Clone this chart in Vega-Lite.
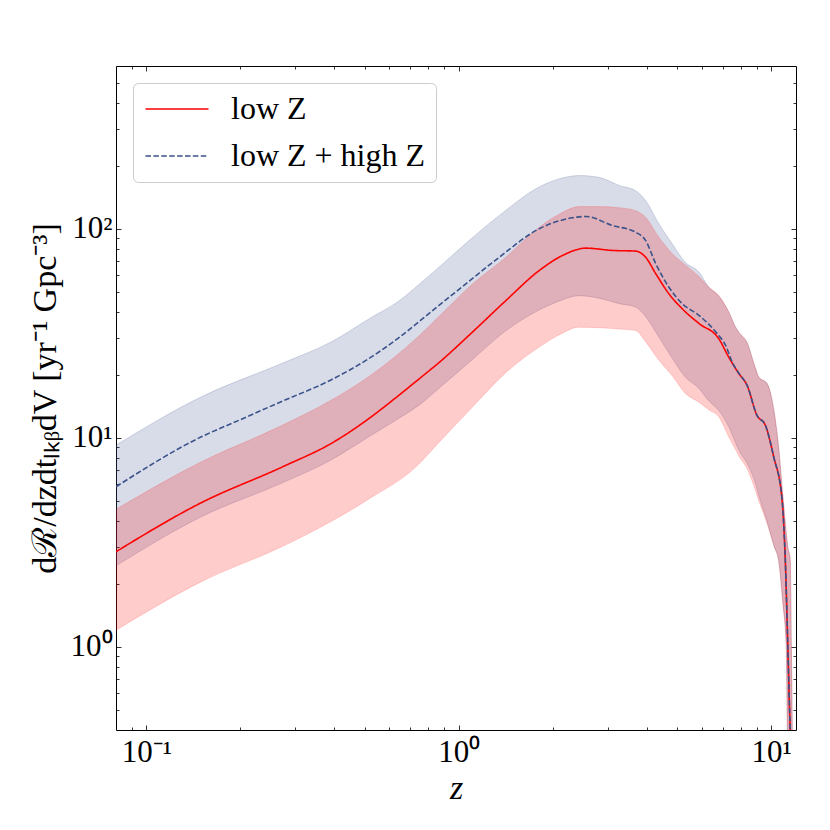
{
  "$schema": "https://vega.github.io/schema/vega-lite/v6.json",
  "autosize": {"type": "none"},
  "padding": {"left": 116, "top": 66, "right": 34, "bottom": 100},
  "width": 680,
  "height": 664,
  "background": "white",
  "config": {
    "view": {"stroke": "#000000", "strokeWidth": 1},
    "axis": {
      "domain": false,
      "grid": false,
      "tickColor": "#000000",
      "tickWidth": 0.8,
      "labelFont": "Liberation Serif",
      "labelFontSize": 31,
      "labelColor": "#000000",
      "labelFlush": false,
      "labelOverlap": false,
      "labelBound": false,
      "titleFont": "Liberation Serif",
      "titleFontWeight": "normal",
      "titleColor": "#000000"
    }
  },
  "datasets": {
    "band_both": [
      {"z": 0.08, "lo": 2.44, "hi": 9.22},
      {"z": 0.15, "lo": 4.19, "hi": 15.7},
      {"z": 0.27, "lo": 6.05, "hi": 22.6},
      {"z": 0.39, "lo": 7.82, "hi": 28.7},
      {"z": 0.52, "lo": 10.2, "hi": 37.3},
      {"z": 0.65, "lo": 12.5, "hi": 45.6},
      {"z": 0.75, "lo": 14.4, "hi": 54.5},
      {"z": 0.87, "lo": 17.4, "hi": 66},
      {"z": 1.1, "lo": 23.5, "hi": 90},
      {"z": 1.4, "lo": 32.1, "hi": 121},
      {"z": 1.8, "lo": 40.7, "hi": 157.8},
      {"z": 2.09, "lo": 45, "hi": 173},
      {"z": 2.43, "lo": 47.8, "hi": 179.5},
      {"z": 2.81, "lo": 46.5, "hi": 176},
      {"z": 3.26, "lo": 43.8, "hi": 161},
      {"z": 3.68, "lo": 42.2, "hi": 152},
      {"z": 3.96, "lo": 38, "hi": 136.5},
      {"z": 4.37, "lo": 30.3, "hi": 105.5},
      {"z": 4.82, "lo": 24, "hi": 84.7},
      {"z": 5.31, "lo": 19.5, "hi": 69},
      {"z": 5.87, "lo": 17.2, "hi": 62},
      {"z": 6.31, "lo": 15, "hi": 52.6},
      {"z": 6.79, "lo": 13.5, "hi": 47.5},
      {"z": 7.31, "lo": 11.3, "hi": 40},
      {"z": 7.68, "lo": 9.5, "hi": 33.9},
      {"z": 7.87, "lo": 8.73, "hi": 32},
      {"z": 8.37, "lo": 7.54, "hi": 28.5},
      {"z": 8.9, "lo": 6.05, "hi": 21.5},
      {"z": 9.12, "lo": 5.3, "hi": 19.5},
      {"z": 9.69, "lo": 4.0, "hi": 18.2},
      {"z": 10.23, "lo": 3.0, "hi": 13.1},
      {"z": 10.55, "lo": 2.6, "hi": 9.1},
      {"z": 10.9, "lo": 1.6, "hi": 5.2},
      {"z": 11.17, "lo": 1.0, "hi": 3.5},
      {"z": 11.3, "lo": 0.3, "hi": 3.0},
      {"z": 11.5, "lo": 0.3, "hi": 2.6},
      {"z": 11.6, "lo": 0.3, "hi": 1.0},
      {"z": 11.7, "lo": 0.3, "hi": 0.3}
    ],
    "band_low": [
      {"z": 0.08, "lo": 1.2, "hi": 4.55},
      {"z": 0.15, "lo": 2.05, "hi": 7.67},
      {"z": 0.27, "lo": 3.0, "hi": 11.4},
      {"z": 0.39, "lo": 3.97, "hi": 15.1},
      {"z": 0.52, "lo": 5.13, "hi": 19.8},
      {"z": 0.73, "lo": 7.26, "hi": 29.8},
      {"z": 0.87, "lo": 9.6, "hi": 38.4},
      {"z": 1.1, "lo": 13.9, "hi": 54},
      {"z": 1.4, "lo": 20.2, "hi": 72},
      {"z": 1.8, "lo": 27.0, "hi": 101},
      {"z": 2.09, "lo": 31, "hi": 117},
      {"z": 2.43, "lo": 33.8, "hi": 127.5},
      {"z": 2.81, "lo": 33.6, "hi": 127.5},
      {"z": 3.26, "lo": 33.1, "hi": 126},
      {"z": 3.68, "lo": 32.6, "hi": 122},
      {"z": 3.96, "lo": 28.8, "hi": 113.5},
      {"z": 4.37, "lo": 23.5, "hi": 91},
      {"z": 4.82, "lo": 19.8, "hi": 75.9},
      {"z": 5.31, "lo": 16.3, "hi": 67},
      {"z": 5.87, "lo": 14.8, "hi": 59},
      {"z": 6.31, "lo": 13.6, "hi": 52.5},
      {"z": 6.79, "lo": 12.6, "hi": 48},
      {"z": 7.31, "lo": 10.1, "hi": 40},
      {"z": 7.68, "lo": 8.8, "hi": 33.9},
      {"z": 7.87, "lo": 8.2, "hi": 32},
      {"z": 8.37, "lo": 7.1, "hi": 28.5},
      {"z": 8.9, "lo": 5.6, "hi": 21.5},
      {"z": 9.12, "lo": 5.0, "hi": 19.5},
      {"z": 9.69, "lo": 3.9, "hi": 18.2},
      {"z": 10.23, "lo": 3.0, "hi": 13.1},
      {"z": 10.55, "lo": 2.6, "hi": 9.1},
      {"z": 10.9, "lo": 1.6, "hi": 5.2},
      {"z": 11.17, "lo": 1.0, "hi": 3.5},
      {"z": 11.3, "lo": 0.3, "hi": 3.0},
      {"z": 11.5, "lo": 0.3, "hi": 2.6},
      {"z": 11.6, "lo": 0.3, "hi": 1.0},
      {"z": 11.7, "lo": 0.3, "hi": 0.3}
    ],
    "lines": [
      {"series": "low Z", "z": 0.08, "rate": 2.85},
      {"series": "low Z", "z": 0.15, "rate": 4.89},
      {"series": "low Z", "z": 0.273, "rate": 7.26},
      {"series": "low Z", "z": 0.394, "rate": 9.46},
      {"series": "low Z", "z": 0.506, "rate": 12.1},
      {"series": "low Z", "z": 0.624, "rate": 15.4},
      {"series": "low Z", "z": 0.749, "rate": 19.2},
      {"series": "low Z", "z": 0.868, "rate": 23.0},
      {"series": "low Z", "z": 1.108, "rate": 32.1},
      {"series": "low Z", "z": 1.417, "rate": 45.4},
      {"series": "low Z", "z": 1.81, "rate": 63.1},
      {"series": "low Z", "z": 2.15, "rate": 74.5},
      {"series": "low Z", "z": 2.55, "rate": 80.7},
      {"series": "low Z", "z": 3.1, "rate": 78.7},
      {"series": "low Z", "z": 3.68, "rate": 78.1},
      {"series": "low Z", "z": 3.96, "rate": 73.1},
      {"series": "low Z", "z": 4.27, "rate": 60.9},
      {"series": "low Z", "z": 4.7, "rate": 48.9},
      {"series": "low Z", "z": 5.19, "rate": 41.4},
      {"series": "low Z", "z": 5.87, "rate": 35.2},
      {"series": "low Z", "z": 6.79, "rate": 29.8},
      {"series": "low Z", "z": 7.31, "rate": 24.3},
      {"series": "low Z", "z": 7.87, "rate": 20.3},
      {"series": "low Z", "z": 8.37, "rate": 17.8},
      {"series": "low Z", "z": 9.0, "rate": 12.8},
      {"series": "low Z", "z": 9.57, "rate": 11.5},
      {"series": "low Z", "z": 10.18, "rate": 8.11},
      {"series": "low Z", "z": 10.82, "rate": 5.13},
      {"series": "low Z", "z": 11.09, "rate": 2.6},
      {"series": "low Z", "z": 11.3, "rate": 1.0},
      {"series": "low Z", "z": 11.5, "rate": 0.4},
      {"series": "low Z", "z": 11.6, "rate": 0.3},
      {"series": "low Z + high Z", "z": 0.08, "rate": 5.83},
      {"series": "low Z + high Z", "z": 0.15, "rate": 10.1},
      {"series": "low Z + high Z", "z": 0.2, "rate": 12.2},
      {"series": "low Z + high Z", "z": 0.268, "rate": 14.8},
      {"series": "low Z + high Z", "z": 0.387, "rate": 18.8},
      {"series": "low Z + high Z", "z": 0.506, "rate": 23.5},
      {"series": "low Z + high Z", "z": 0.647, "rate": 30.3},
      {"series": "low Z + high Z", "z": 0.826, "rate": 40.7},
      {"series": "low Z + high Z", "z": 1.056, "rate": 54.6},
      {"series": "low Z + high Z", "z": 1.349, "rate": 73.1},
      {"series": "low Z + high Z", "z": 1.81, "rate": 100},
      {"series": "low Z + high Z", "z": 2.31, "rate": 112.7},
      {"series": "low Z + high Z", "z": 2.55, "rate": 114.4},
      {"series": "low Z + high Z", "z": 3.1, "rate": 103.6},
      {"series": "low Z + high Z", "z": 3.68, "rate": 96.2},
      {"series": "low Z + high Z", "z": 3.96, "rate": 87.9},
      {"series": "low Z + high Z", "z": 4.27, "rate": 68},
      {"series": "low Z + high Z", "z": 4.7, "rate": 52.6},
      {"series": "low Z + high Z", "z": 5.19, "rate": 43.8},
      {"series": "low Z + high Z", "z": 5.87, "rate": 38.5},
      {"series": "low Z + high Z", "z": 6.71, "rate": 31.5},
      {"series": "low Z + high Z", "z": 7.14, "rate": 27.7},
      {"series": "low Z + high Z", "z": 7.5, "rate": 23},
      {"series": "low Z + high Z", "z": 7.87, "rate": 20.4},
      {"series": "low Z + high Z", "z": 8.37, "rate": 17.8},
      {"series": "low Z + high Z", "z": 9.0, "rate": 12.8},
      {"series": "low Z + high Z", "z": 9.57, "rate": 11.5},
      {"series": "low Z + high Z", "z": 10.18, "rate": 8.11},
      {"series": "low Z + high Z", "z": 10.82, "rate": 5.13},
      {"series": "low Z + high Z", "z": 11.09, "rate": 2.6},
      {"series": "low Z + high Z", "z": 11.3, "rate": 1.0},
      {"series": "low Z + high Z", "z": 11.5, "rate": 0.4},
      {"series": "low Z + high Z", "z": 11.6, "rate": 0.3}
    ]
  },
  "resolve": {"axis": {"x": "independent", "y": "independent"}},
  "layer": [
    {
      "data": {"name": "band_both"},
      "mark": {"type": "area", "interpolate": "monotone", "clip": true, "color": "#3b528b", "fillOpacity": 0.2, "stroke": "#3b528b", "strokeOpacity": 0.2, "strokeWidth": 1},
      "encoding": {
        "x": {
          "field": "z", "type": "quantitative",
          "scale": {"type": "log", "domain": [0.08, 12], "nice": false},
          "axis": {
            "orient": "bottom", "title": "z", "titleFontSize": 34, "titleFontStyle": "italic", "titlePadding": 4,
            "values": [0.1, 1, 10], "tickSize": -5, "labelPadding": 12,
            "labelExpr": "datum.value < 0.5 ? '10⁻¹' : (datum.value < 5 ? '10⁰' : '10¹')"
          }
        },
        "y": {
          "field": "lo", "type": "quantitative",
          "scale": {"type": "log", "domain": [0.4, 600], "nice": false},
          "axis": {
            "orient": "left", "title": "dℛ/dzdtₗₖᵦdV [yr⁻¹ Gpc⁻³]", "titleFontSize": 34, "titlePadding": 8,
            "values": [1, 10, 100], "tickSize": -5, "labelPadding": 9,
            "labelExpr": "datum.value < 5 ? '10⁰' : (datum.value < 50 ? '10¹' : '10²')"
          }
        },
        "y2": {"field": "hi"}
      }
    },
    {
      "data": {"name": "band_low"},
      "mark": {"type": "area", "interpolate": "monotone", "clip": true, "color": "#ff0000", "fillOpacity": 0.2, "stroke": "#ff0000", "strokeOpacity": 0.15, "strokeWidth": 1},
      "encoding": {
        "x": {
          "field": "z", "type": "quantitative",
          "axis": {
            "orient": "bottom", "title": null, "labels": false, "tickSize": -3,
            "values": [0.09, 0.2, 0.3, 0.4, 0.5, 0.6, 0.7, 0.8, 0.9, 2, 3, 4, 5, 6, 7, 8, 9]
          }
        },
        "y": {
          "field": "lo", "type": "quantitative",
          "axis": {
            "orient": "left", "title": null, "labels": false, "tickSize": -3,
            "values": [0.5, 0.6, 0.7, 0.8, 0.9, 2, 3, 4, 5, 6, 7, 8, 9, 20, 30, 40, 50, 60, 70, 80, 90, 200, 300, 400, 500]
          }
        },
        "y2": {"field": "hi"}
      }
    },
    {
      "data": {"name": "lines"},
      "mark": {"type": "line", "interpolate": "monotone", "clip": true, "strokeWidth": 1.6},
      "encoding": {
        "x": {
          "field": "z", "type": "quantitative",
          "axis": {"orient": "top", "title": null, "labels": false, "tickSize": -5, "values": [0.1, 1, 10]}
        },
        "y": {
          "field": "rate", "type": "quantitative",
          "axis": {"orient": "right", "title": null, "labels": false, "tickSize": -5, "values": [1, 10, 100]}
        },
        "color": {
          "field": "series", "type": "nominal",
          "scale": {"domain": ["low Z", "low Z + high Z"], "range": ["#ff0000", "#3b528b"]},
          "legend": {
            "orient": "top-left", "offset": 17, "title": null,
            "fillColor": "rgba(255,255,255,0.8)", "strokeColor": "#cccccc", "cornerRadius": 5, "padding": 10,
            "symbolType": "M-2.1,0H2.1", "symbolSize": 900, "symbolStrokeWidth": 1.6, "symbolFillColor": "transparent",
            "symbolOffset": 18,
            "labelFont": "Liberation Serif", "labelFontSize": 32, "labelColor": "#000000",
            "labelOffset": 38, "rowPadding": 15, "labelLimit": 400
          }
        },
        "strokeDash": {
          "field": "series", "type": "nominal",
          "scale": {"domain": ["low Z", "low Z + high Z"], "range": [[1, 0], [5.5, 2.4]]},
          "legend": null
        }
      }
    },
    {
      "data": {"name": "lines"},
      "mark": {"type": "point", "opacity": 0},
      "encoding": {
        "x": {
          "field": "z", "type": "quantitative",
          "axis": {
            "orient": "top", "title": null, "labels": false, "tickSize": -3,
            "values": [0.09, 0.2, 0.3, 0.4, 0.5, 0.6, 0.7, 0.8, 0.9, 2, 3, 4, 5, 6, 7, 8, 9]
          }
        },
        "y": {
          "field": "rate", "type": "quantitative",
          "axis": {
            "orient": "right", "title": null, "labels": false, "tickSize": -3,
            "values": [0.5, 0.6, 0.7, 0.8, 0.9, 2, 3, 4, 5, 6, 7, 8, 9, 20, 30, 40, 50, 60, 70, 80, 90, 200, 300, 400, 500]
          }
        }
      }
    }
  ]
}
